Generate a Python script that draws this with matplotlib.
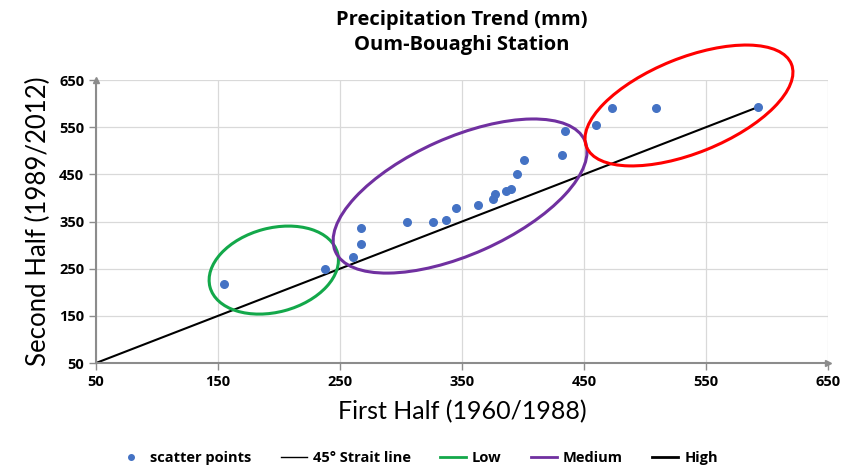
import numpy as np
import matplotlib
matplotlib.use("Agg")
import matplotlib.pyplot as plt
import matplotlib.transforms as transforms
from matplotlib.patches import Ellipse
from matplotlib.lines import Line2D

plt.rcParams['font.family'] = ['Lato', 'DejaVu Sans']
BOLD = ['Open Sans', 'DejaVu Sans']

# first half (1960/1988) vs second half (1989/2012), mm
first_half = [155, 238, 261, 267, 267, 305, 326, 337, 345, 363, 375,
              377, 386, 390, 395, 401, 432, 434, 460, 473, 509, 593]
second_half = [218, 250, 275, 302, 337, 349, 350, 353, 378, 384, 398,
               408, 414, 418, 450, 481, 492, 542, 555, 590, 591, 593]

line_x = [50, 593]
ticks = [50, 150, 250, 350, 450, 550, 650]

# groups: (name, color, center x, center y, width px, height px, angle)
groups = [
    ("Low", "#13a84a", 195.7, 247, 132, 84, 15),
    ("Medium", "#7030a0", 348.4, 404, 273, 117, 24),
    ("High", "#ff0000", 536, 596, 221, 95, 22),
]

fig = plt.figure(figsize=(8.62, 4.69), dpi=100)
ax = fig.add_axes([0.1114, 0.226, 0.8492, 0.6034])

ax.set_xlim(50, 650)
ax.set_ylim(50, 650)
ax.set_xticks(ticks)
ax.set_yticks(ticks)
ax.grid(True, color="#d9d9d9", lw=0.9)
ax.set_axisbelow(True)

for s in ["top", "right"]:
    ax.spines[s].set_visible(False)
for s in ["left", "bottom"]:
    ax.spines[s].set_color("#8c8c8c")
    ax.spines[s].set_linewidth(1.5)
ax.tick_params(colors="#8c8c8c", length=5, width=1)
for lab in ax.get_xticklabels() + ax.get_yticklabels():
    lab.set_family(BOLD)
    lab.set_fontweight("bold")
    lab.set_fontsize(10.5)
    lab.set_color("black")

# arrow heads on axes
ax.plot(1, 0, ">", transform=ax.transAxes, color="#8c8c8c", ms=4, clip_on=False)
ax.plot(0, 1, "^", transform=ax.transAxes, color="#8c8c8c", ms=4, clip_on=False)

ax.plot(line_x, line_x, color="black", lw=1.5, zorder=2)
ax.scatter(first_half, second_half, s=30, color="#4472c4", zorder=3)

for name, col, cx, cy, w, h, ang in groups:
    tr = fig.dpi_scale_trans + transforms.ScaledTranslation(cx, cy, ax.transData)
    e = Ellipse((0, 0), w / 100, h / 100, angle=ang, fill=False,
                edgecolor=col, lw=2.2, transform=tr, zorder=4, clip_on=False)
    ax.add_patch(e)

ax.set_xlabel("First Half (1960/1988)", fontsize=18, labelpad=8)
ax.set_ylabel("Second Half (1989/2012)", fontsize=18.5, labelpad=6)

fig.text(0.536, 0.978, "Precipitation Trend (mm)\nOum-Bouaghi Station",
         ha="center", va="top", fontsize=14.5, fontweight="bold", family=BOLD,
         linespacing=1.3)

handles = [
    Line2D([], [], ls="none", marker="o", color="#4472c4", ms=4),
    Line2D([], [], color="black", lw=1),
    Line2D([], [], color=groups[0][1], lw=2),
    Line2D([], [], color=groups[1][1], lw=2),
    Line2D([], [], color="black", lw=2),
]
labels = ["scatter points", "45\u00b0 Strait line", "Low", "Medium", "High"]
leg = fig.legend(handles, labels, loc="lower center", bbox_to_anchor=(0.485, -0.02),
                 ncol=5, frameon=False, handlelength=1.8, columnspacing=2.0,
                 handletextpad=0.4, prop={'family': BOLD, 'weight': 'bold', 'size': 10.5})

fig.savefig("out.png", dpi=100)
